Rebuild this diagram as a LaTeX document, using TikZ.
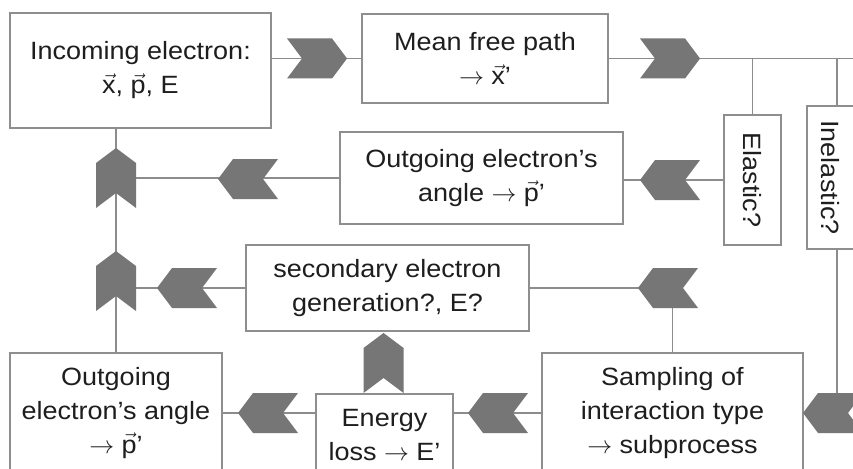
\documentclass[tikz,border=0pt]{standalone}
\usepackage{amsmath}
\usepackage{fontspec}
\setmainfont{Liberation Sans}[FakeStretch=1.08]
\definecolor{boxline}{HTML}{8E8E8E}
\definecolor{linec}{HTML}{8C8C8C}
\definecolor{chevc}{HTML}{767676}
\definecolor{textc}{HTML}{1E1E1E}
\newcommand\vv[1]{\ensuremath{\vec{\mbox{#1}}}}
\newcommand\ra{\ensuremath{\rightarrow}}
\begin{document}
\begin{tikzpicture}[x=1pt,y=-1pt,
  box/.style={draw=boxline, line width=1.3pt, fill=white, align=center, inner sep=0pt,
    font=\fontsize{25}{34}\selectfont, text=textc},
  vtext/.style={font=\fontsize{25}{34}\selectfont, text=textc, rotate=-90, inner sep=0pt},
  conn/.style={draw=linec, line width=1.5pt},
  chev/.pic={\fill[chevc] (-30,-20) -- (15,-20) -- (30,0) -- (15,20) -- (-30,20) -- (-15,0) -- cycle;}]
\useasboundingbox (0,0) rectangle (853,468);
\clip (0,0) rectangle (853,468);
\fill[white] (0,0) rectangle (853,468);
% boxes
\node[box, minimum width=261pt, minimum height=115pt] (inc) at (140.5,70.5) {Incoming electron:\\\vv{x}, \vv{p}, E};
\node[box, minimum width=246pt, minimum height=89pt] (mfp) at (485,58.5) {Mean free path\\\ra{} \vv{x}’};
\node[box, minimum width=57pt, minimum height=130pt] (ela) at (752.5,180) {};
\node[vtext] (elat) at (752.5,180) {Elastic?};
\node[box, minimum width=48pt, minimum height=143pt] (inela) at (831,177.5) {};
\node[vtext] (inelat) at (830,177.5) {Inelastic?};
\node[box, minimum width=283pt, minimum height=92pt] (out1) at (481.5,178) {Outgoing electron’s\\angle \ra{} \vv{p}’};
\node[box, minimum width=283pt, minimum height=86pt] (sec) at (387.5,288) {secondary electron\\generation?, E?};
\node[box, minimum width=212pt, minimum height=120pt] (out2) at (116,413) {Outgoing\\electron’s angle\\\ra{} \vv{p}’};
\node[box, minimum width=137pt, minimum height=82pt] (energy) at (384.5,435) {Energy\\loss \ra{} E'};
\node[box, minimum width=261pt, minimum height=120pt] (samp) at (672.5,413) {Sampling of\\interaction type\\\ra{} subprocess};
\coordinate (rend) at (870,58.5);
% connectors
\draw[conn] (inc.east |- mfp.west) -- (mfp.west);
\draw[conn] (mfp.east) -- (rend);
\draw[conn] (ela.north |- mfp.east) -- (ela.north);
\draw[conn] ([xshift=6pt]inela.north |- mfp.east) -- ([xshift=6pt]inela.north);
\draw[conn] (ela.west) -- (out1.east |- ela.west);
\draw[conn] (out1.west) -- (out2.north |- out1.west);
\draw[conn] (inc.south -| out2.north) -- (out2.north);
\draw[conn] (sec.west) -- (out2.north |- sec.west);
\draw[conn] (samp.north) |- (sec.east);
\draw[conn] (samp.west) -- (samp.west -| energy.east);
\draw[conn] (out2.east -| energy.west) -- (out2.east);
\draw[conn] ([xshift=6pt]inela.south) |- (samp.east);
% chevrons
\pic at (317,58.5) {chev};
\pic at (670,58.5) {chev};
\pic[rotate=180] at (670,180) {chev};
\pic[rotate=180] at (248,179) {chev};
\pic[rotate=90] at (116,178) {chev};
\pic[rotate=90] at (116,281) {chev};
\pic[rotate=180] at (187,288) {chev};
\pic[rotate=180] at (668,288) {chev};
\pic[rotate=90] at (383.5,363) {chev};
\pic[rotate=180] at (498,413) {chev};
\pic[rotate=180] at (268,413) {chev};
\pic[rotate=180] at (833,413) {chev};
\end{tikzpicture}
\end{document}
